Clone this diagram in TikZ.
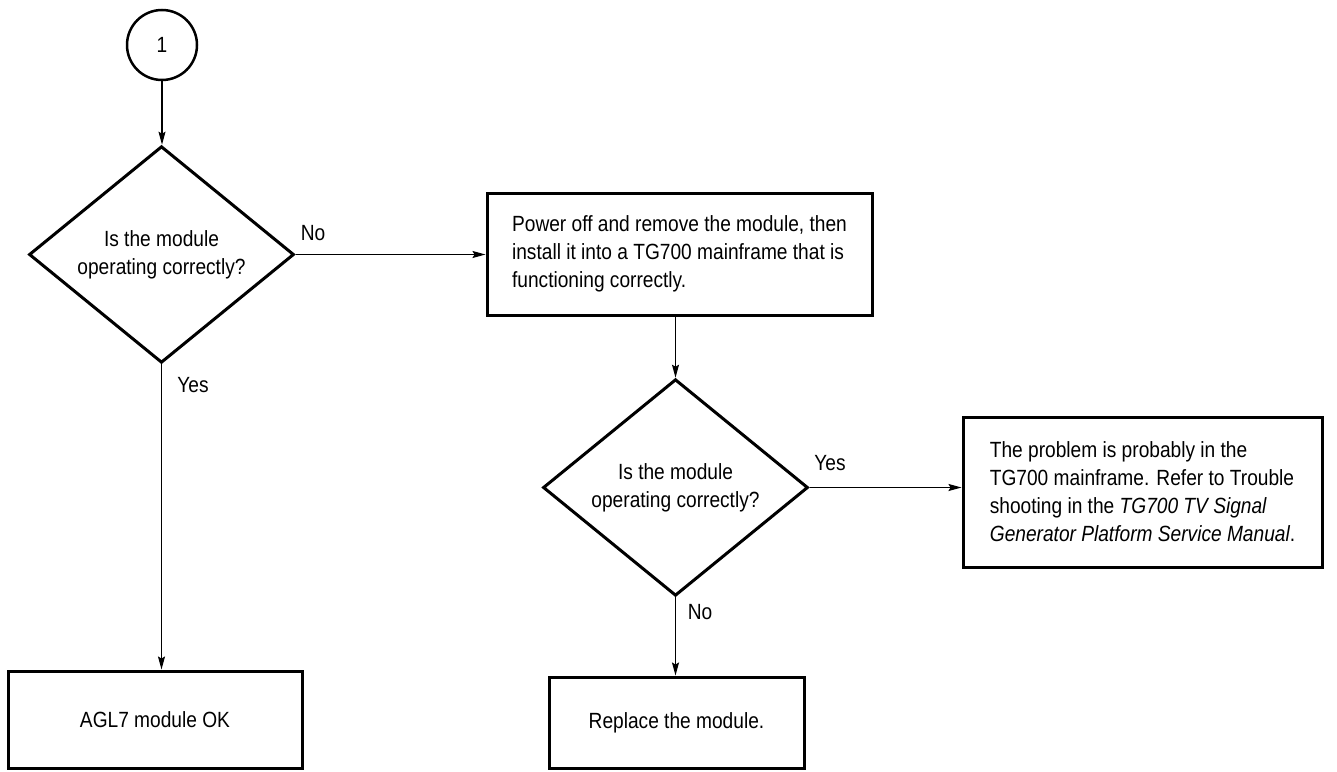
\documentclass[tikz,border=0pt]{standalone}
\usepackage{fontspec}
\setmainfont{Liberation Sans}[FakeStretch=0.87]
\usetikzlibrary{shapes.geometric,arrows.meta}
\begin{document}
\begin{tikzpicture}[x=1pt,y=-1pt,
  every node/.style={font=\fontsize{22}{28}\selectfont},
  box/.style={draw, line width=3pt, rectangle, inner sep=0pt, align=left},
  dec/.style={draw, line width=3pt, diamond, inner sep=0pt, align=center},
  conn/.style={line width=1.3pt, -{Stealth[length=13pt,width=7pt,inset=2pt]}},
  lbl/.style={inner sep=0pt}]
\useasboundingbox (0,0) rectangle (1337,771);

\node[draw, circle, line width=2.5pt, minimum size=70pt, inner sep=0pt] (start) at (162,45) {1};
\node[dec, minimum width=265pt, minimum height=215pt] (d1) at (161.5,254.5) {Is the module\\operating correctly?};
\node[box, minimum width=385pt, minimum height=122pt] (b1) at (679.5,254) {Power off and remove the module, then\\install it into a TG700 mainframe that is\\functioning correctly.};
\node[dec, minimum width=265pt, minimum height=215pt] (d2) at (675.5,487.5) {Is the module\\operating correctly?};
\node[box, minimum width=359pt, minimum height=150pt] (b3) at (1142.5,492) {The problem is probably in the\\TG700 mainframe. Refer to Trouble\\shooting in the \textit{TG700 TV Signal}\\\textit{Generator Platform Service Manual}.};
\node[box, minimum width=294pt, minimum height=97pt] (b2) at (155,719.5) {AGL7 module OK};
\node[box, minimum width=255pt, minimum height=91pt] (b4) at (676.5,722.5) {Replace the module.};

\node[lbl] (lno1) at (313,233) {No};
\node[lbl] (lyes1) at (193,385) {Yes};
\node[lbl] (lyes2) at (830,463) {Yes};
\node[lbl] (lno2) at (700,612) {No};

\draw[conn] (start.south) -- (start.south |- d1.north);
\draw[conn] (d1.east) -- (d1.east -| b1.west);
\draw[conn] (d1.south) -- (d1.south |- b2.north);
\draw[conn] (b1.south -| d2.north) -- (d2.north);
\draw[conn] (d2.east) -- (d2.east -| b3.west);
\draw[conn] (d2.south) -- (d2.south |- b4.north);
\end{tikzpicture}
\end{document}
